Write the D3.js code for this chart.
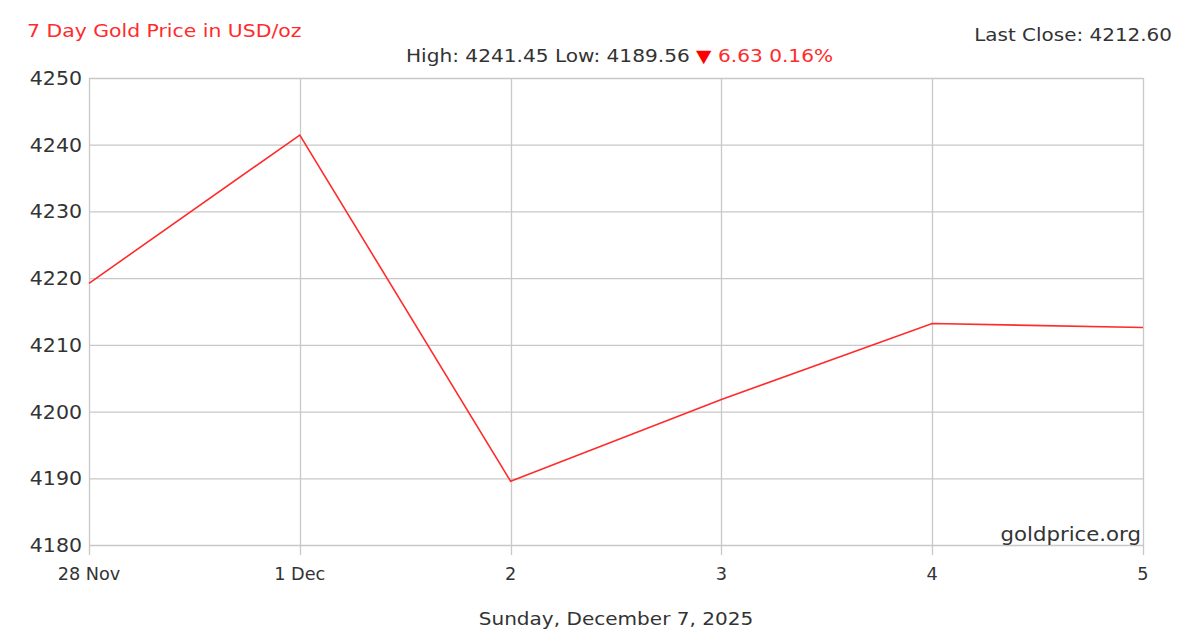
<!DOCTYPE html>
<html><head><meta charset="utf-8">
<script src="https://cdn.jsdelivr.net/npm/d3@7"></script>
<style>body{margin:0;background:#fff}svg{display:block}text{font-family:"DejaVu Sans",Verdana,sans-serif}</style>
</head><body><svg id="c" width="1200" height="636"></svg>
<script>
const categories = ["28 Nov","1 Dec","2","3","4","5"];
const prices = [4219.23, 4241.45, 4189.56, 4201.8, 4213.2, 4212.60];
const yTicks = [4180,4190,4200,4210,4220,4230,4240,4250];
const title = "7 Day Gold Price in USD/oz";
const lastClose = "Last Close: 4212.60";
const highLow = "High: 4241.45 Low: 4189.56 ";
const change = "6.63 0.16%";
const dateLabel = "Sunday, December 7, 2025";
const credit = "goldprice.org";

const svg = d3.select("#c");
const m = {l:89, r:1143, t:78, b:545};
const x = d3.scalePoint().domain(categories).range([m.l, m.r]);
const y = d3.scaleLinear().domain([4180,4250]).range([m.b, m.t]);
const grid = "#c8c8c8", txt = "#333", red = "#ff2b2b";

// horizontally widen text (reference font renders wider than DejaVu)
function widen(sel, f){
  sel.each(function(){
    const w = this.getComputedTextLength();
    d3.select(this).attr("textLength", w*f).attr("lengthAdjust","spacingAndGlyphs");
  });
}

// grid
svg.append("g").selectAll("line").data(yTicks).join("line")
  .attr("x1", m.l).attr("x2", m.r).attr("y1", d=>y(d)+0.5).attr("y2", d=>y(d)+0.5)
  .attr("stroke", grid).attr("stroke-width",1.3);
svg.append("g").selectAll("line").data(categories).join("line")
  .attr("x1", d=>Math.round(x(d))+0.5).attr("x2", d=>Math.round(x(d))+0.5)
  .attr("y1", m.t).attr("y2", m.b+10)
  .attr("stroke", grid).attr("stroke-width",1.3);

// y labels
svg.append("g").selectAll("text").data(yTicks).join("text")
  .attr("x", 82).attr("y", d=>y(d)+7).attr("text-anchor","end")
  .attr("font-size",19).attr("fill",txt).text(d=>d).call(widen,1.08);
// x labels
svg.append("g").selectAll("text").data(categories).join("text")
  .attr("x", d=>x(d)).attr("y", 580).attr("text-anchor","middle")
  .attr("font-size",17).attr("fill",txt).text(d=>d).call(widen,1.04);

// line
const line = d3.line().x((d,i)=>x(categories[i])).y(d=>y(d));
svg.append("path").datum(prices).attr("d", line)
  .attr("fill","none").attr("stroke",red).attr("stroke-width",1.6);

// texts
svg.append("text").attr("x",27).attr("y",37).attr("font-size",17.5).attr("fill",red).text(title).call(widen,1.165);
svg.append("text").attr("x",1172).attr("y",41).attr("text-anchor","end").attr("font-size",17.5).attr("fill",txt).text(lastClose).call(widen,1.14);
const hl = svg.append("text").attr("transform","translate(619.5,62) scale(1.15,1)")
  .attr("text-anchor","middle").attr("font-size",17.5).attr("fill",txt);
hl.append("tspan").text(highLow);
hl.append("tspan").attr("fill","#ff0000").text("\u25BC ");
hl.append("tspan").attr("fill",red).text(change);
svg.append("text").attr("x",1141).attr("y",541).attr("text-anchor","end").attr("font-size",19.5).attr("fill",txt).text(credit).call(widen,1.09);
svg.append("text").attr("x",616).attr("y",625).attr("text-anchor","middle").attr("font-size",17.5).attr("fill",txt).text(dateLabel).call(widen,1.145);
</script></body></html>
